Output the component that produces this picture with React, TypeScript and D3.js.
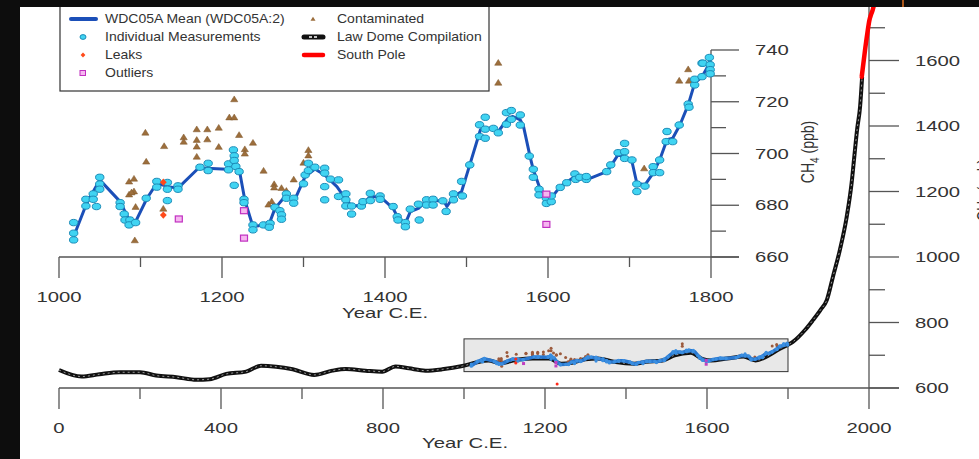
import * as d3 from "d3";

// WDC05A mean (inset + box in main panel)
const meanYears = [1018,1034,1050,1075,1087,1094,1108,1120,1134,1146,1171,1181,1206,1214,1222,1228,1238,1251,1259,1265,1277,1290,1302,1314,1326,1341,1351,1359,1371,1382,1394,1410,1416,1425,1431,1441,1451,1472,1476,1484,1494,1504,1517,1523,1533,1539,1551,1557,1566,1570,1578,1582,1590,1598,1607,1615,1633,1647,1672,1678,1686,1694,1703,1709,1719,1729,1737,1746,1753,1762,1772,1780,1789,1795,1799];
const meanValues = [667.9,680.8,689.8,681.4,673.7,673.7,682.7,688.5,687.2,686.6,694.3,694.3,693.9,696.9,692.4,682,671.7,672.4,673.7,678.8,683.3,682.7,691.1,694,691.7,687.2,682.7,679.5,680.1,683.3,683.3,678.8,675,673,677.5,678.8,681.7,681.7,679.5,683.3,685.3,695.6,709.1,709.8,709.8,708.5,713.6,714.3,713,710.4,698.8,693.7,686.6,683.3,684,687.2,691.1,689.8,693,695.6,699.5,698.8,696.9,688.5,687.9,692.4,697.5,705.3,705.9,711.1,718.8,727.2,729.7,733,736.2];

// individual measurements
const measYears = [1018,1018,1018,1033,1033,1042,1042,1046,1050,1050,1050,1075,1075,1080,1081,1087,1086,1094,1107,1120,1120,1133,1133,1133,1146,1146,1173,1183,1183,1208,1208,1214,1215,1215,1217,1221,1215,1227,1227,1238,1238,1251,1259,1258,1265,1271,
  1273,1273,1279,1279,1288,1288,1300,1302,1306,1306,1314,1326,1326,1326,1326,1333,1343,1343,1352,1352,1352,1359,1359,1371,1373,1382,1382,1394,1394,1410,1415,1416,1425,1425,1431,1441,1442,1451,1451,1459,1459,1471,1475,1484,1484,1494,1495,1504,1516,1516,1523,1523,1523,
  1533,1539,1549,1549,1555,1555,1566,1566,1577,1582,1582,1589,1589,1598,1598,1604,1604,1615,1623,1633,1634,1639,1647,1647,1672,1677,1686,1694,1694,1694,1703,1709,1709,1719,1729,1729,1737,1737,1745,1746,1753,1761,1772,1773,1780,1780,1789,1789,1790,1798,1799,1799,1799];
const measValues = [673.3,669.2,666.6,682.3,679.7,684.4,682.3,679.5,690.8,688.2,686.2,681,679.5,676.6,674.3,674.3,672.4,673.3,682.7,689.2,687,688.8,686.2,681.8,687.5,686.2,694.7,696.2,693.4,696,693.7,701.4,699.1,697.3,695,693,687.7,682.3,681,672.4,670.5,672.4,673,671.5,679.2,677.9,
  676.3,674.6,684.4,682.7,682.7,680.8,688.3,691.7,693.4,696.2,694.7,694.3,692.4,687.2,682.1,690.1,689.8,683.4,684.4,682.1,679.7,679.7,676.6,679.7,681.4,684.6,681.8,683.6,682.3,679.5,675.6,674.3,673.3,671.7,678.5,680.4,674.3,682.1,680.1,682.3,680.1,681.7,677.6,684.4,682.1,689.2,683.6,695.6,711.1,706.6,714,709.4,705.9,
  709.7,708,711.3,715.8,716.6,713.2,714.9,711,699,693.9,690.8,686.2,684,682.7,680.7,681.4,683.6,686.9,688.7,692.1,690,690.8,690,691.1,693,695.6,700.3,703.9,700.7,698.1,697.5,688.2,685.3,687.4,694.9,692.6,697.5,692.6,704.6,708.5,704.6,711,719.1,717.9,726.5,728.7,734.9,729.7,734.9,737.1,734.3,732.4,730.8];

const contamYears = [1106,1129,1153,1153,1169,1169,1169,1169,1182,1182,1196,1196,1209,1215,1215,1221,1228,1228,1238,1107,1086,1092,1086,1092,1089,1094,1093,1128,1251,1264,1264,1273,1279,1288,1261,1257,1306,1306,1300,1539,1539,1718,1761,1772,1773];
const contamValues = [708.1,702.9,706.3,704.6,709.4,705.3,702.7,698.8,709.4,705.5,710,702.6,714,714,721,707.2,701.7,700,704.2,696.9,689.2,690.3,684.2,685.4,685,679.4,666.5,678.7,693.4,688.2,686.9,686.7,685.6,690,681.5,680.3,701.4,699.3,696.5,735.1,727.4,694.3,728.2,732.6,728.2];

const outlierYears = [1147,1227,1227,1598,1598];
const outlierValues = [674.7,677.9,667.3,684.3,672.6];

const leakYears = [1128,1128,1230];
const leakValues = [688.9,676.2,612];

// Law Dome compilation
const lawYears = [0,56,100,150,200,240,290,339,372,413,462,499,536,577,630,675,708,757,798,831,864,905,946,996,1030,1060,1090,1130,1170,1210,1240,1270,1300,1330,1370,1420,1450,1490,1520,1560,1590,1610,1650,1690,1720,1750,1780,1800,1812,1842,1862,1880,1896,1911,1928,1945,1957,1964,1971,1978,1983];
const lawValues = [655,635,642,648,648,638,633,625,627,643,650,668,665,657,640,653,658,653,650,666,660,653,657,667,678,684,676,686,690,690,674,678,688,690,680,674,680,684,700,708,688,684,690,696,684,698,720,732,741,777,808,838,869,940,1021,1123,1225,1310,1393,1459,1550];

// South Pole
const spYears = [1982,1990,1996,2001,2005,2009,2012];
const spValues = [1550,1630,1684,1723,1740,1754,1768];

const mainXTicks = d3.range(0, 2001, 200);
const mainYTicks = d3.range(600, 1800, 100);
const insXTicks = d3.range(1000, 1801, 100);
const insYTicks = d3.range(660, 741, 10);

const FONT = "'Liberation Sans', Arial, sans-serif";
const AX = "#555";

function SText({ x, y, sx = 1.4, size = 14.5, anchor = "start", fill = "#333", children }: any) {
  return (
    <text transform={`translate(${x},${y}) scale(${sx},1)`} textAnchor={anchor}
      fontSize={size} fontFamily={FONT} fill={fill}>{children}</text>
  );
}

const tri = "M-3.6,2.6L0,-3.2L3.6,2.6Z";
const dia = "M0,-3.6L3.4,0L0,3.6L-3.4,0Z";

export default function App() {
  const W = 979, H = 459;
  const mx = d3.scaleLinear().domain([0, 2000]).range([59, 869]);
  const my = d3.scaleLinear().domain([600, 1800]).range([388, -5]);
  const ix = d3.scaleLinear().domain([1000, 1800]).range([59, 711]);
  const iy = d3.scaleLinear().domain([660, 740]).range([257, 50]);

  const mainLine = d3.line<number>().x((_, i) => mx(meanYears[i])).y((d) => my(d));
  const lawLine = d3.line<number>().x((_, i) => mx(lawYears[i])).y((d) => my(d)).curve(d3.curveMonotoneX);
  const spLine = d3.line<number>().x((_, i) => mx(spYears[i])).y((d) => my(d)).curve(d3.curveMonotoneX);
  const insLine = d3.line<number>().x((_, i) => ix(meanYears[i])).y((d) => iy(d));

  const lawPath = lawLine(lawValues) ?? "";

  return (
    <svg width={W} height={H} style={{ position: "absolute", left: 0, top: 0, background: "#fff" }}>
      <rect width={W} height={H} fill="#fff" />

      {/* main panel axes */}
      <line x1={59} x2={899} y1={388} y2={388} stroke={AX} strokeWidth={1.3} />
      <line x1={869} x2={869} y1={388} y2={0} stroke={AX} strokeWidth={1.3} />
      {mainXTicks.map((t) => (
        <g key={"mx" + t}>
          <line x1={mx(t)} x2={mx(t)} y1={388} y2={t % 400 === 0 ? 409 : 399} stroke={AX} strokeWidth={1.3} />
          {t % 400 === 0 && <SText x={mx(t)} y={433} anchor="middle">{t}</SText>}
        </g>
      ))}
      {mainYTicks.map((t) => (
        <g key={"my" + t}>
          <line x1={869} x2={t % 200 === 0 ? 899 : 885} y1={my(t)} y2={my(t)} stroke={AX} strokeWidth={1.3} />
          {t % 200 === 0 && <SText x={915} y={my(t) + 5}>{t}</SText>}
        </g>
      ))}
      <SText x={465} y={448} anchor="middle">Year C.E.</SText>
      <text transform={`translate(990,190) rotate(-90) scale(1,1.35)`} textAnchor="middle"
        fontSize={14} fontFamily={FONT} fill="#333">
        CH<tspan dy={4} fontSize={10}>4</tspan><tspan dy={-4}> (ppb)</tspan>
      </text>

      {/* zoom box */}
      <rect x={mx(1000)} y={my(750)} width={mx(1800) - mx(1000)} height={my(650) - my(750)}
        fill="#e8e8e8" stroke="#333" strokeWidth={1} />

      {/* Law Dome + South Pole */}
      <path d={lawPath} fill="none" stroke="#111" strokeWidth={4} strokeLinejoin="round" />
      <path d={lawPath} fill="none" stroke="#999" strokeWidth={1} strokeDasharray="2,3" />
      <path d={spLine(spValues) ?? ""} fill="none" stroke="#ff0000" strokeWidth={4.5} strokeLinecap="round" />

      {/* WDC05A in main panel */}
      {contamYears.map((yr, i) => (
        <circle key={"mc" + i} cx={mx(yr)} cy={my(contamValues[i])} r={1.5} fill="#9c5a3c" />
      ))}
      <path d={mainLine(meanValues) ?? ""} fill="none" stroke="#2a78d0" strokeWidth={3.5} strokeLinejoin="round" />
      {measYears.map((yr, i) => (
        <circle key={"mm" + i} cx={mx(yr)} cy={my(measValues[i])} r={1.6} fill="#3a8ee0" />
      ))}
      {outlierYears.map((yr, i) => (
        <rect key={"mo" + i} x={mx(yr) - 1.5} y={my(outlierValues[i]) - 1.5} width={3} height={3} fill="#c040c0" />
      ))}
      {leakYears.map((yr, i) => (
        <circle key={"ml" + i} cx={mx(yr)} cy={my(leakValues[i])} r={1.5} fill="#ff2a1a" />
      ))}

      {/* inset axes */}
      <line x1={59} x2={739} y1={257} y2={257} stroke={AX} strokeWidth={1.3} />
      <line x1={711} x2={711} y1={257} y2={50} stroke={AX} strokeWidth={1.3} />
      {insXTicks.map((t) => (
        <g key={"ix" + t}>
          <line x1={ix(t)} x2={ix(t)} y1={257} y2={t % 200 === 0 ? 278 : 267} stroke={AX} strokeWidth={1.3} />
          {t % 200 === 0 && <SText x={ix(t)} y={302} anchor="middle">{t}</SText>}
        </g>
      ))}
      {insYTicks.map((t) => (
        <g key={"iy" + t}>
          <line x1={711} x2={t % 20 === 0 ? 739 : 726} y1={iy(t)} y2={iy(t)} stroke={AX} strokeWidth={1.3} />
          {t % 20 === 0 && <SText x={755} y={iy(t) + 5}>{t}</SText>}
        </g>
      ))}
      <SText x={385} y={318} anchor="middle">Year C.E.</SText>
      <text transform={`translate(814,152) rotate(-90) scale(1,1.35)`} textAnchor="middle"
        fontSize={14} fontFamily={FONT} fill="#333">
        CH<tspan dy={4} fontSize={10}>4</tspan><tspan dy={-4}> (ppb)</tspan>
      </text>

      {/* inset data */}
      {contamYears.map((yr, i) => (
        <path key={"ic" + i} d={tri} transform={`translate(${ix(yr)},${iy(contamValues[i])})`}
          fill="#9c6e3c" stroke="#7d5428" strokeWidth={0.5} />
      ))}
      <path d={insLine(meanValues) ?? ""} fill="none" stroke="#1b4fb8" strokeWidth={3} strokeLinejoin="round" />
      {measYears.map((yr, i) => (
        <ellipse key={"im" + i} cx={ix(yr)} cy={iy(measValues[i])} rx={4.2} ry={3.2}
          fill="#40d4f2" stroke="#1d8cb8" strokeWidth={1} />
      ))}
      {outlierYears.map((yr, i) => (
        <rect key={"io" + i} x={ix(yr) - 3.5} y={iy(outlierValues[i]) - 3} width={7} height={6}
          fill="#f6b6f0" stroke="#c030c0" strokeWidth={1.2} />
      ))}
      {leakYears.filter((_, i) => leakValues[i] >= 660).map((yr, i) => (
        <path key={"il" + i} d={dia} transform={`translate(${ix(yr)},${iy(leakValues[i])})`} fill="#ff4a1a" />
      ))}

      {/* legend */}
      <rect x={60} y={0} width={429} height={91} fill="#fff" stroke="#333" strokeWidth={1.2} />
      <line x1={71} x2={96} y1={19} y2={19} stroke="#1b4fb8" strokeWidth={4} strokeLinecap="round" />
      <SText x={105} y={23} sx={1.12} size={12.5}>WDC05A Mean (WDC05A:2)</SText>
      <ellipse cx={83} cy={37} rx={3} ry={2.4} fill="#40d4f2" stroke="#1d8cb8" strokeWidth={1} />
      <SText x={105} y={41} sx={1.12} size={12.5}>Individual Measurements</SText>
      <path d={dia} transform="translate(83,55) scale(0.7)" fill="#ff4a1a" />
      <SText x={105} y={59} sx={1.12} size={12.5}>Leaks</SText>
      <rect x={80} y={70.5} width={5.5} height={5} fill="#f6b6f0" stroke="#c030c0" strokeWidth={1} />
      <SText x={105} y={77} sx={1.12} size={12.5}>Outliers</SText>
      <path d={tri} transform="translate(313,19) scale(0.7)" fill="#9c6e3c" />
      <SText x={337} y={23} sx={1.12} size={12.5}>Contaminated</SText>
      <line x1={304} x2={323} y1={37} y2={37} stroke="#111" strokeWidth={5} strokeLinecap="round" />
      <line x1={309} x2={318} y1={37} y2={37} stroke="#fff" strokeWidth={1.4} strokeDasharray="3,2" />
      <SText x={337} y={41} sx={1.12} size={12.5}>Law Dome Compilation</SText>
      <line x1={304} x2={323} y1={55} y2={55} stroke="#ff0000" strokeWidth={4.5} strokeLinecap="round" />
      <SText x={337} y={59} sx={1.12} size={12.5}>South Pole</SText>

      {/* dark frame */}
      <rect x={0} y={0} width={20} height={H} fill="#0d0d0d" />
      <rect x={0} y={0} width={W} height={7} fill="#0d0d0d" />
      <line x1={903} x2={903} y1={0} y2={7} stroke="#e07020" strokeWidth={1.5} />
    </svg>
  );
}
